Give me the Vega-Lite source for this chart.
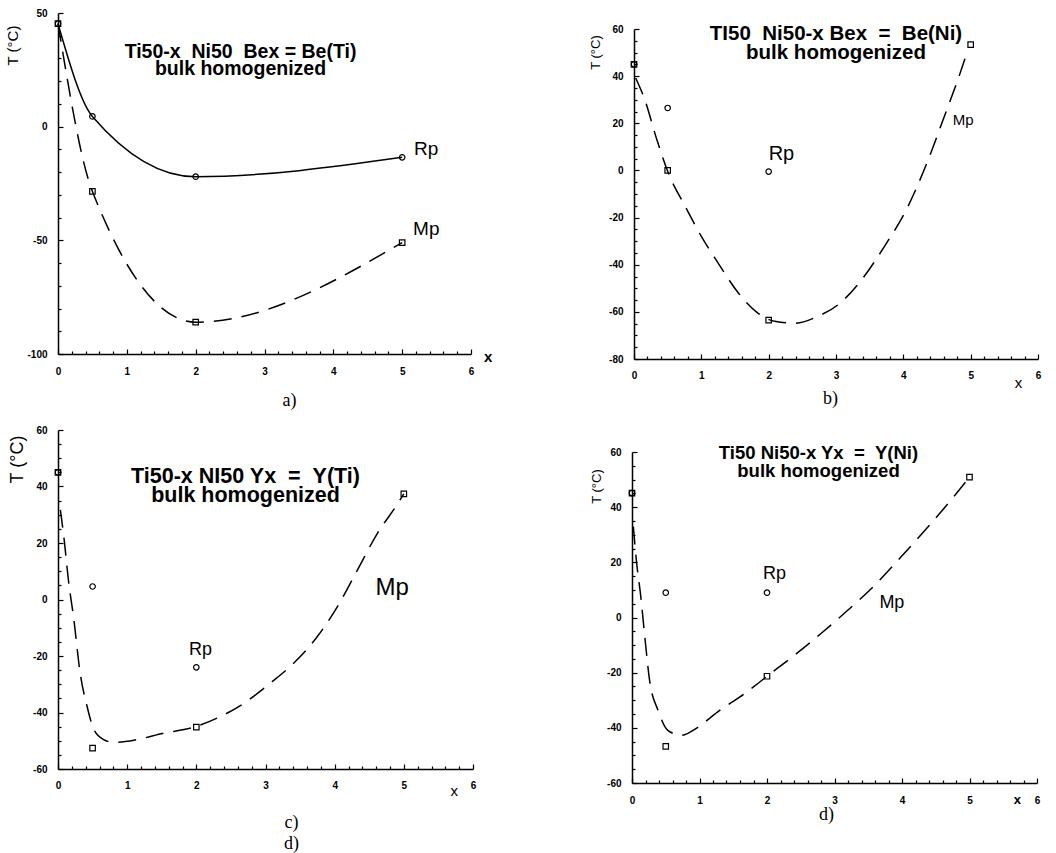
{
 "$schema": "https://vega.github.io/schema/vega-lite/v6.json",
 "background": "white",
 "padding": {"left": 5, "top": 8, "right": 5, "bottom": 5},
 "config": {
  "view": {"stroke": null},
  "axis": {"grid": false, "domainColor": "black", "tickColor": "black", "labelColor": "black", "titleColor": "black",
   "labelFont": "Liberation Sans", "labelFontWeight": "bold", "labelFontSize": 10, "labelFlush": false, "labelOverlap": false, "labelBound": false,
   "domainWidth": 1.5, "tickWidth": 1.2, "titleFont": "Liberation Sans", "titleFontWeight": "normal"}
 },
 "datasets": {
  "a": [
   {"series": "Rp", "x": 0, "T": 45.3}, {"series": "Rp", "x": 0.5, "T": 4.5}, {"series": "Rp", "x": 2, "T": -22}, {"series": "Rp", "x": 5, "T": -13.5},
   {"series": "Mp", "x": 0, "T": 45.3}, {"series": "Mp", "x": 0.5, "T": -28.5}, {"series": "Mp", "x": 2, "T": -86}, {"series": "Mp", "x": 5, "T": -51},
   {"series": "label", "label": "Rp", "x": 5.35, "T": -10}, {"series": "label", "label": "Mp", "x": 5.35, "T": -44.8},
   {"series": "axisname", "label": "x", "x": 6.25, "T": -101.3}
  ],
  "b": [
   {"series": "Rp", "x": 0, "T": 45}, {"series": "Rp", "x": 0.5, "T": 26.5}, {"series": "Rp", "x": 2, "T": -0.5},
   {"series": "Mp", "x": 0, "T": 45}, {"series": "Mp", "x": 0.5, "T": 0}, {"series": "Mp", "x": 2, "T": -63.5}, {"series": "Mp", "x": 5, "T": 53.4},
   {"series": "fit", "x": 0.025, "T": 39.2}, {"series": "fit", "x": 0.16, "T": 30}, {"series": "fit", "x": 0.34, "T": 13}, {"series": "fit", "x": 0.51, "T": -1.1},
   {"series": "fit", "x": 0.76, "T": -15.2}, {"series": "fit", "x": 1.0, "T": -28}, {"series": "fit", "x": 1.25, "T": -39.3}, {"series": "fit", "x": 1.55, "T": -52},
   {"series": "fit", "x": 1.84, "T": -60.5}, {"series": "fit", "x": 2.09, "T": -64}, {"series": "fit", "x": 2.39, "T": -64.8}, {"series": "fit", "x": 2.73, "T": -61.9},
   {"series": "fit", "x": 3.03, "T": -57}, {"series": "fit", "x": 3.38, "T": -46.4}, {"series": "fit", "x": 3.72, "T": -32.2}, {"series": "fit", "x": 4.07, "T": -15.2},
   {"series": "fit", "x": 4.37, "T": 4.6}, {"series": "fit", "x": 4.61, "T": 23}, {"series": "fit", "x": 4.81, "T": 38.5}, {"series": "fit", "x": 4.96, "T": 51.2},
   {"series": "label", "label": "Rp", "x": 2.19, "T": 7.1}, {"series": "label2", "label": "Mp", "x": 4.89, "T": 21.5},
   {"series": "axisname", "label": "x", "x": 5.71, "T": -90.2}
  ],
  "c": [
   {"series": "Rp", "x": 0, "T": 45}, {"series": "Rp", "x": 0.5, "T": 4.6}, {"series": "Rp", "x": 2, "T": -24},
   {"series": "Mp", "x": 0, "T": 45}, {"series": "Mp", "x": 0.5, "T": -52.6}, {"series": "Mp", "x": 2, "T": -45.2}, {"series": "Mp", "x": 5, "T": 37.4},
   {"series": "fit", "x": 0.034, "T": 31.7}, {"series": "fit", "x": 0.09, "T": 21}, {"series": "fit", "x": 0.15, "T": 7}, {"series": "fit", "x": 0.23, "T": -7.2},
   {"series": "fit", "x": 0.32, "T": -26}, {"series": "fit", "x": 0.42, "T": -37.8}, {"series": "fit", "x": 0.52, "T": -46.1}, {"series": "fit", "x": 0.66, "T": -49.6},
   {"series": "fit", "x": 0.81, "T": -50.6}, {"series": "fit", "x": 1.14, "T": -49.6}, {"series": "fit", "x": 1.53, "T": -47.3}, {"series": "fit", "x": 1.92, "T": -45.5},
   {"series": "fit", "x": 2.3, "T": -42}, {"series": "fit", "x": 2.69, "T": -36.7}, {"series": "fit", "x": 3.07, "T": -29.6}, {"series": "fit", "x": 3.41, "T": -22.5},
   {"series": "fit", "x": 3.75, "T": -13.1}, {"series": "fit", "x": 4.04, "T": -2.5}, {"series": "fit", "x": 4.33, "T": 10.5}, {"series": "fit", "x": 4.62, "T": 23.5},
   {"series": "fit", "x": 4.9, "T": 33.5}, {"series": "fit", "x": 5.0, "T": 37.4},
   {"series": "label", "label": "Rp", "x": 2.06, "T": -17.8}, {"series": "label2", "label": "Mp", "x": 4.83, "T": 4},
   {"series": "axisname", "label": "x", "x": 5.73, "T": -67.9}
  ],
  "d": [
   {"series": "Rp", "x": 0, "T": 45.1}, {"series": "Rp", "x": 0.5, "T": 9}, {"series": "Rp", "x": 2, "T": 9},
   {"series": "Mp", "x": 0, "T": 45.1}, {"series": "Mp", "x": 0.5, "T": -46.7}, {"series": "Mp", "x": 2, "T": -21.3}, {"series": "Mp", "x": 5, "T": 50.9},
   {"series": "fit", "x": 0.02, "T": 33}, {"series": "fit", "x": 0.064, "T": 20.9}, {"series": "fit", "x": 0.13, "T": 7.6}, {"series": "fit", "x": 0.19, "T": -7},
   {"series": "fit", "x": 0.26, "T": -22.7}, {"series": "fit", "x": 0.385, "T": -33.6}, {"series": "fit", "x": 0.53, "T": -40.9}, {"series": "fit", "x": 0.73, "T": -42.7},
   {"series": "fit", "x": 0.98, "T": -39.7}, {"series": "fit", "x": 1.27, "T": -34.2}, {"series": "fit", "x": 1.67, "T": -27.6}, {"series": "fit", "x": 1.99, "T": -21.5},
   {"series": "fit", "x": 2.41, "T": -13.6}, {"series": "fit", "x": 2.8, "T": -5.8}, {"series": "fit", "x": 3.2, "T": 2.7}, {"series": "fit", "x": 3.6, "T": 11.8},
   {"series": "fit", "x": 3.99, "T": 22.1}, {"series": "fit", "x": 4.39, "T": 33}, {"series": "fit", "x": 4.73, "T": 42.7}, {"series": "fit", "x": 5.0, "T": 50.9},
   {"series": "label", "label": "Rp", "x": 2.11, "T": 15.8}, {"series": "label", "label": "Mp", "x": 3.85, "T": 5.4},
   {"series": "axisname", "label": "x", "x": 5.71, "T": -66.3}
  ]
 },
 "spacing": 16,
 "vconcat": [
  {
   "spacing": 96,
   "hconcat": [
    {
     "width": 413, "height": 341,
     "title": {"text": ["Ti50-x\u00a0\u00a0Ni50\u00a0\u00a0Bex = Be(Ti)", "bulk homogenized"], "frame": "group", "anchor": "middle", "offset": -71, "dx": -24,
      "font": "Liberation Sans", "fontWeight": "bold", "fontSize": 19.5, "lineHeight": 17, "color": "black"},
     "data": {"name": "a"},
     "encoding": {
      "x": {"field": "x", "type": "quantitative", "scale": {"domain": [0, 6], "nice": false, "zero": false},
       "axis": {"values": [0,0.2,0.4,0.6,0.8,1,1.2,1.4,1.6,1.8,2,2.2,2.4,2.6,2.8,3,3.2,3.4,3.6,3.8,4,4.2,4.4,4.6,4.8,5,5.2,5.4,5.6,5.8,6],
        "labelExpr": "datum.value % 1 === 0 ? '' + datum.value : ''",
        "tickSize": {"condition": {"test": "datum.value % 1 === 0", "value": -5}, "value": -3}, "labelPadding": 17,
        "title": "a)", "titleFont": "Liberation Serif", "titleFontSize": 18, "titleX": 231, "titleY": 37}},
      "y": {"field": "T", "type": "quantitative", "scale": {"domain": [-100, 50], "nice": false, "zero": false},
       "axis": {"values": [-100,-90,-80,-70,-60,-50,-40,-30,-20,-10,0,10,20,30,40,50],
        "labelExpr": "datum.value % 50 === 0 ? '' + datum.value : ''",
        "tickSize": {"condition": {"test": "datum.value % 50 === 0", "value": -5}, "value": -3}, "labelPadding": 16,
        "title": "T (°C)", "titleFontSize": 15, "titleX": -46, "titleY": 32, "titleAlign": "center", "titleBaseline": "middle", "titleAngle": -90}}
     },
     "layer": [
      {"transform": [{"filter": "datum.series === 'Rp'"}], "mark": {"type": "line", "interpolate": "monotone", "color": "black", "strokeWidth": 1.5}},
      {"transform": [{"filter": "datum.series === 'Mp'"}], "mark": {"type": "line", "interpolate": "monotone", "color": "black", "strokeWidth": 1.5, "strokeDash": [18, 10]}},
      {"transform": [{"filter": "datum.series === 'Rp'"}], "mark": {"type": "point", "shape": "circle", "filled": false, "color": "black", "size": 30, "strokeWidth": 1.2, "opacity": 1}},
      {"transform": [{"filter": "datum.series === 'Mp'"}], "mark": {"type": "point", "shape": "square", "filled": false, "color": "black", "size": 30, "strokeWidth": 1.2, "opacity": 1}},
      {"transform": [{"filter": "datum.series === 'label'"}], "mark": {"type": "text", "font": "Liberation Sans", "fontSize": 19, "color": "black"}, "encoding": {"text": {"field": "label"}}},
      {"transform": [{"filter": "datum.series === 'axisname'"}], "mark": {"type": "text", "font": "Liberation Sans", "fontWeight": "bold", "fontSize": 15, "color": "black"}, "encoding": {"text": {"field": "label"}}}
     ]
    },
    {
     "width": 404, "height": 346,
     "title": {"text": ["TI50\u00a0\u00a0Ni50-x Bex\u00a0\u00a0=\u00a0\u00a0Be(Ni)", "bulk homogenized"], "frame": "group", "anchor": "middle", "offset": -50,
      "font": "Liberation Sans", "fontWeight": "bold", "fontSize": 20.5, "lineHeight": 19, "color": "black"},
     "data": {"name": "b"},
     "encoding": {
      "x": {"field": "x", "type": "quantitative", "scale": {"domain": [0, 6], "nice": false, "zero": false},
       "axis": {"values": [0,0.2,0.4,0.6,0.8,1,1.2,1.4,1.6,1.8,2,2.2,2.4,2.6,2.8,3,3.2,3.4,3.6,3.8,4,4.2,4.4,4.6,4.8,5,5.2,5.4,5.6,5.8,6],
        "labelExpr": "datum.value % 1 === 0 ? '' + datum.value : ''",
        "tickSize": {"condition": {"test": "datum.value % 1 === 0", "value": -5}, "value": -3}, "labelPadding": 16,
        "title": "b)", "titleFont": "Liberation Serif", "titleFontSize": 18, "titleX": 196, "titleY": 30}},
      "y": {"field": "T", "type": "quantitative", "scale": {"domain": [-80, 60], "nice": false, "zero": false, "range": [346, 16]},
       "axis": {"values": [-80,-75,-70,-65,-60,-55,-50,-45,-40,-35,-30,-25,-20,-15,-10,-5,0,5,10,15,20,25,30,35,40,45,50,55,60],
        "labelExpr": "datum.value % 20 === 0 ? '' + datum.value : ''",
        "tickSize": {"condition": {"test": "datum.value % 20 === 0", "value": -5}, "value": -3}, "labelPadding": 16,
        "title": "T (°C)", "titleFontSize": 13, "titleX": -39, "titleY": 39, "titleAlign": "center", "titleBaseline": "middle", "titleAngle": -90}}
     },
     "layer": [
      {"transform": [{"filter": "datum.series === 'fit'"}], "mark": {"type": "line", "interpolate": "monotone", "color": "black", "strokeWidth": 1.5, "strokeDash": [18, 10]}},
      {"transform": [{"filter": "datum.series === 'Rp'"}], "mark": {"type": "point", "shape": "circle", "filled": false, "color": "black", "size": 30, "strokeWidth": 1.2, "opacity": 1}},
      {"transform": [{"filter": "datum.series === 'Mp'"}], "mark": {"type": "point", "shape": "square", "filled": false, "color": "black", "size": 30, "strokeWidth": 1.2, "opacity": 1}},
      {"transform": [{"filter": "datum.series === 'label'"}], "mark": {"type": "text", "font": "Liberation Sans", "fontSize": 20, "color": "black"}, "encoding": {"text": {"field": "label"}}},
      {"transform": [{"filter": "datum.series === 'label2'"}], "mark": {"type": "text", "font": "Liberation Sans", "fontSize": 15, "color": "black"}, "encoding": {"text": {"field": "label"}}},
      {"transform": [{"filter": "datum.series === 'axisname'"}], "mark": {"type": "text", "font": "Liberation Sans", "fontSize": 15, "color": "black"}, "encoding": {"text": {"field": "label"}}}
     ]
    }
   ]
  },
  {
   "spacing": 114,
   "hconcat": [
    {
     "width": 415, "height": 339,
     "title": {"text": ["Ti50-x NI50 Yx\u00a0\u00a0=\u00a0\u00a0Y(Ti)", "bulk homogenized"], "frame": "group", "anchor": "middle", "offset": -81, "dx": -20,
      "font": "Liberation Sans", "fontWeight": "bold", "fontSize": 21.5, "lineHeight": 19, "color": "black"},
     "data": {"name": "c"},
     "encoding": {
      "x": {"field": "x", "type": "quantitative", "scale": {"domain": [0, 6], "nice": false, "zero": false},
       "axis": {"values": [0,0.2,0.4,0.6,0.8,1,1.2,1.4,1.6,1.8,2,2.2,2.4,2.6,2.8,3,3.2,3.4,3.6,3.8,4,4.2,4.4,4.6,4.8,5,5.2,5.4,5.6,5.8,6],
        "labelExpr": "datum.value % 1 === 0 ? '' + datum.value : ''",
        "tickSize": {"condition": {"test": "datum.value % 1 === 0", "value": -5}, "value": -3}, "labelPadding": 16,
        "title": ["c)", "d)"], "titleFont": "Liberation Serif", "titleFontSize": 18, "titleLineHeight": 21, "titleX": 233, "titleY": 44}},
      "y": {"field": "T", "type": "quantitative", "scale": {"domain": [-60, 60], "nice": false, "zero": false},
       "axis": {"values": [-60,-55,-50,-45,-40,-35,-30,-25,-20,-15,-10,-5,0,5,10,15,20,25,30,35,40,45,50,55,60],
        "labelExpr": "datum.value % 20 === 0 ? '' + datum.value : ''",
        "tickSize": {"condition": {"test": "datum.value % 20 === 0", "value": -5}, "value": -3}, "labelPadding": 16,
        "title": "T (°C)", "titleFontSize": 18, "titleX": -41, "titleY": 29, "titleAlign": "center", "titleBaseline": "middle", "titleAngle": -90}}
     },
     "layer": [
      {"transform": [{"filter": "datum.series === 'fit'"}], "mark": {"type": "line", "interpolate": "monotone", "color": "black", "strokeWidth": 1.5, "strokeDash": [18, 10]}},
      {"transform": [{"filter": "datum.series === 'Rp'"}], "mark": {"type": "point", "shape": "circle", "filled": false, "color": "black", "size": 30, "strokeWidth": 1.2, "opacity": 1}},
      {"transform": [{"filter": "datum.series === 'Mp'"}], "mark": {"type": "point", "shape": "square", "filled": false, "color": "black", "size": 30, "strokeWidth": 1.2, "opacity": 1}},
      {"transform": [{"filter": "datum.series === 'label'"}], "mark": {"type": "text", "font": "Liberation Sans", "fontSize": 18, "color": "black"}, "encoding": {"text": {"field": "label"}}},
      {"transform": [{"filter": "datum.series === 'label2'"}], "mark": {"type": "text", "font": "Liberation Sans", "fontSize": 24, "color": "black"}, "encoding": {"text": {"field": "label"}}},
      {"transform": [{"filter": "datum.series === 'axisname'"}], "mark": {"type": "text", "font": "Liberation Sans", "fontSize": 15, "color": "black"}, "encoding": {"text": {"field": "label"}}}
     ]
    },
    {
     "width": 405, "height": 353,
     "title": {"text": ["Ti50 Ni50-x Yx\u00a0\u00a0=\u00a0\u00a0Y(Ni)", "bulk homogenized"], "frame": "group", "anchor": "middle", "offset": -50, "dx": -16,
      "font": "Liberation Sans", "fontWeight": "bold", "fontSize": 18.5, "lineHeight": 18, "color": "black"},
     "data": {"name": "d"},
     "encoding": {
      "x": {"field": "x", "type": "quantitative", "scale": {"domain": [0, 6], "nice": false, "zero": false},
       "axis": {"values": [0,0.2,0.4,0.6,0.8,1,1.2,1.4,1.6,1.8,2,2.2,2.4,2.6,2.8,3,3.2,3.4,3.6,3.8,4,4.2,4.4,4.6,4.8,5,5.2,5.4,5.6,5.8,6],
        "labelExpr": "datum.value % 1 === 0 ? '' + datum.value : ''",
        "tickSize": {"condition": {"test": "datum.value % 1 === 0", "value": -5}, "value": -3}, "labelPadding": 17,
        "title": "d)", "titleFont": "Liberation Serif", "titleFontSize": 18, "titleX": 194, "titleY": 22}},
      "y": {"field": "T", "type": "quantitative", "scale": {"domain": [-60, 60], "nice": false, "zero": false, "range": [353, 22]},
       "axis": {"values": [-60,-55,-50,-45,-40,-35,-30,-25,-20,-15,-10,-5,0,5,10,15,20,25,30,35,40,45,50,55,60],
        "labelExpr": "datum.value % 20 === 0 ? '' + datum.value : ''",
        "tickSize": {"condition": {"test": "datum.value % 20 === 0", "value": -5}, "value": -3}, "labelPadding": 16,
        "title": "T (°C)", "titleFontSize": 13, "titleX": -36, "titleY": 56, "titleAlign": "center", "titleBaseline": "middle", "titleAngle": -90}}
     },
     "layer": [
      {"transform": [{"filter": "datum.series === 'fit'"}], "mark": {"type": "line", "interpolate": "monotone", "color": "black", "strokeWidth": 1.5, "strokeDash": [18, 10]}},
      {"transform": [{"filter": "datum.series === 'Rp'"}], "mark": {"type": "point", "shape": "circle", "filled": false, "color": "black", "size": 30, "strokeWidth": 1.2, "opacity": 1}},
      {"transform": [{"filter": "datum.series === 'Mp'"}], "mark": {"type": "point", "shape": "square", "filled": false, "color": "black", "size": 30, "strokeWidth": 1.2, "opacity": 1}},
      {"transform": [{"filter": "datum.series === 'label'"}], "mark": {"type": "text", "font": "Liberation Sans", "fontSize": 18, "color": "black"}, "encoding": {"text": {"field": "label"}}},
      {"transform": [{"filter": "datum.series === 'axisname'"}], "mark": {"type": "text", "font": "Liberation Sans", "fontWeight": "bold", "fontSize": 13, "color": "black"}, "encoding": {"text": {"field": "label"}}}
     ]
    }
   ]
  }
 ]
}
